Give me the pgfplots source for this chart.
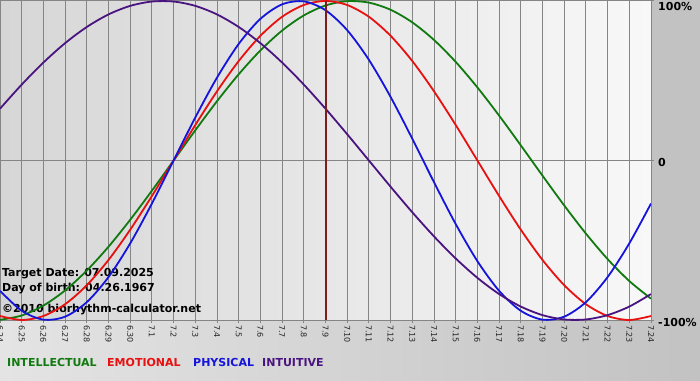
\documentclass[border=0pt]{standalone}
\usepackage{pgfplots}
\pgfplotsset{compat=1.18}
\usepackage{fontspec}
\setmainfont{DejaVu Sans}
\definecolor{intel}{HTML}{107A10}
\definecolor{emo}{HTML}{E81010}
\definecolor{phys}{HTML}{1414DC}
\definecolor{intu}{HTML}{4A1480}
\definecolor{gridc}{HTML}{858585}
\definecolor{marker}{HTML}{7A1E1E}
\definecolor{bgL}{HTML}{E4E4E4}
\definecolor{bgR}{HTML}{C2C2C2}
\definecolor{plotL}{HTML}{D6D6D6}
\definecolor{plotR}{HTML}{F8F8F8}
\definecolor{panel}{HTML}{C2C2C2}
\begin{document}
\begin{tikzpicture}[x=1pt,y=1pt]
\shade[left color=bgL, right color=bgR] (0,0) rectangle (700,380);
\fill[panel] (651,60) rectangle (700,380);
\path[use as bounding box] (0,0) rectangle (700,380);
\begin{axis}[
  at={(0pt,60pt)}, anchor=south west,
  scale only axis, width=651pt, height=319pt,
  xmin=0, xmax=30, ymin=-1, ymax=1,
  axis background/.style={left color=plotL, right color=plotR},
  axis line style={gridc, line width=1pt},
  xtick={0,...,30},
  xticklabels={6.24,6.25,6.26,6.27,6.28,6.29,6.30,7.1,7.2,7.3,7.4,7.5,7.6,7.7,7.8,7.9,7.10,7.11,7.12,7.13,7.14,7.15,7.16,7.17,7.18,7.19,7.20,7.21,7.22,7.23,7.24},
  xticklabel style={rotate=-90, anchor=west, inner sep=0pt, font=\fontsize{8}{9}\selectfont, text=black!85},
  xticklabel shift=2pt,
  ytick={-1,0,1},
  yticklabels={},
  xmajorgrids, ymajorgrids,
  grid style={gridc, line width=1pt},
  tick align=outside, major tick length=3pt,
  tick style={gridc, line width=1pt},
  clip=true,
]
\node[anchor=base west, inner sep=0pt, font=\bfseries\fontsize{11}{12}\selectfont] at (axis cs:0.09,-0.730) {Target Date: 07.09.2025};
\node[anchor=base west, inner sep=0pt, font=\bfseries\fontsize{11}{12}\selectfont] at (axis cs:0.09,-0.824) {Day of birth: 04.26.1967};
\node[anchor=base west, inner sep=0pt, font=\bfseries\fontsize{11}{12}\selectfont] at (axis cs:0.09,-0.950) {©2010 biorhythm-calculator.net};
% intellectual
\addplot[intel, line width=1.8pt, smooth] coordinates {
(0,-0.9989) (1,-0.9718) (2,-0.9096) (3,-0.8146) (4,-0.6901) (5,-0.5406) (6,-0.3717) (7,-0.1893)
(8,0) (9,0.1893) (10,0.3717) (11,0.5406) (12,0.6901) (13,0.8146) (14,0.9096) (15,0.9718)
(16,0.9989) (17,0.9898) (18,0.9450) (19,0.8660) (20,0.7557) (21,0.6182) (22,0.4582) (23,0.2817)
(24,0.0950) (25,-0.0950) (26,-0.2817) (27,-0.4582) (28,-0.6182) (29,-0.7557) (30,-0.8660)};
% emotional
\addplot[emo, line width=1.8pt, smooth] coordinates {
(0,-0.9749) (1,-1) (2,-0.9749) (3,-0.9010) (4,-0.7818) (5,-0.6235) (6,-0.4339) (7,-0.2225)
(8,0) (9,0.2225) (10,0.4339) (11,0.6235) (12,0.7818) (13,0.9010) (14,0.9749) (15,1)
(16,0.9749) (17,0.9010) (18,0.7818) (19,0.6235) (20,0.4339) (21,0.2225) (22,0) (23,-0.2225)
(24,-0.4339) (25,-0.6235) (26,-0.7818) (27,-0.9010) (28,-0.9749) (29,-1) (30,-0.9749)};
% physical
\addplot[phys, line width=1.8pt, smooth] coordinates {
(0,-0.8170) (1,-0.9422) (2,-0.9977) (3,-0.9791) (4,-0.8880) (5,-0.7308) (6,-0.5196) (7,-0.2698)
(8,0) (9,0.2698) (10,0.5196) (11,0.7308) (12,0.8880) (13,0.9791) (14,0.9977) (15,0.9422)
(16,0.8170) (17,0.6311) (18,0.3984) (19,0.1362) (20,-0.1362) (21,-0.3984) (22,-0.6311) (23,-0.8170)
(24,-0.9422) (25,-0.9977) (26,-0.9791) (27,-0.8880) (28,-0.7308) (29,-0.5196) (30,-0.2698)};
% intuitive
\addplot[intu, line width=1.8pt, smooth] coordinates {
(0,0.3247) (1,0.4759) (2,0.6142) (3,0.7357) (4,0.8372) (5,0.9158) (6,0.9694) (7,0.9966)
(8,0.9966) (9,0.9694) (10,0.9158) (11,0.8372) (12,0.7357) (13,0.6142) (14,0.4759) (15,0.3247)
(16,0.1646) (17,0) (18,-0.1646) (19,-0.3247) (20,-0.4759) (21,-0.6142) (22,-0.7357) (23,-0.8372)
(24,-0.9158) (25,-0.9694) (26,-0.9966) (27,-0.9966) (28,-0.9694) (29,-0.9158) (30,-0.8372)};
% target date marker
\addplot[marker, line width=2pt] coordinates {(15,-1) (15,1)};
\end{axis}
\begin{scope}[font=\bfseries\fontsize{11}{12}\selectfont]
\node[anchor=west, inner sep=0pt] at (658,373) {100\%};
\node[anchor=west, inner sep=0pt] at (658,218) {0};
\node[anchor=west, inner sep=0pt] at (658,58) {-100\%};
\node[anchor=base west, inner sep=0pt, text=intel] at (7,14) {INTELLECTUAL};
\node[anchor=base west, inner sep=0pt, text=emo] at (107,14) {EMOTIONAL};
\node[anchor=base west, inner sep=0pt, text=phys] at (193,14) {PHYSICAL};
\node[anchor=base west, inner sep=0pt, text=intu] at (262,14) {INTUITIVE};
\end{scope}
\end{tikzpicture}
\end{document}
